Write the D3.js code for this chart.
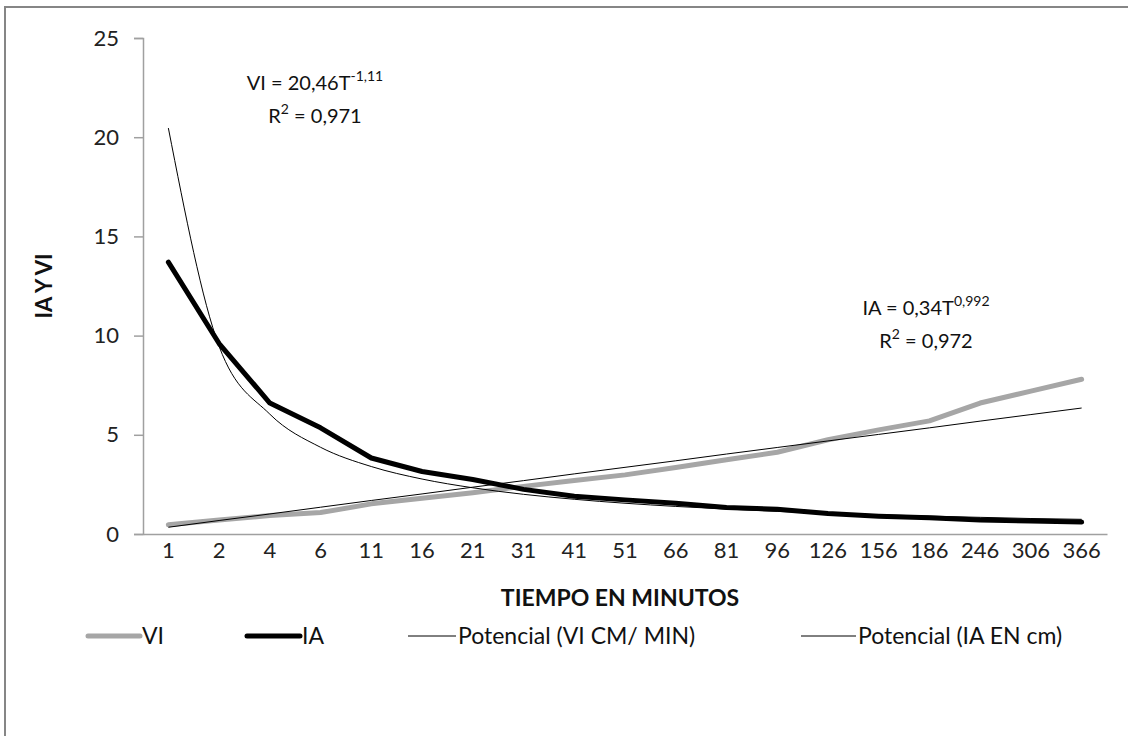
<!DOCTYPE html>
<html>
<head>
<meta charset="utf-8">
<script src="https://cdn.jsdelivr.net/npm/d3@7/dist/d3.min.js"></script>
<style>
  html, body { margin: 0; padding: 0; background: #fff; }
  svg { display: block; font-family: Lato, "Open Sans", sans-serif; }
</style>
</head>
<body>
<svg id="chart" width="1128" height="736"></svg>
<script>
// ---- data ----
const categories = ["1","2","4","6","11","16","21","31","41","51","66","81","96","126","156","186","246","306","366"];
const viValues = [0.47, 0.7, 0.93, 1.08, 1.52, 1.8, 2.08, 2.4, 2.7, 2.98, 3.35, 3.74, 4.12, 4.75, 5.25, 5.7, 6.6, 7.2, 7.8];
const iaValues = [13.7, 9.6, 6.6, 5.35, 3.83, 3.15, 2.75, 2.25, 1.9, 1.72, 1.55, 1.33, 1.25, 1.03, 0.9, 0.82, 0.7, 0.66, 0.6];
const trendVI = [20.46, 9.46, 6.04, 4.37, 3.40, 2.77, 2.33, 2.0, 1.75, 1.55, 1.39, 1.26, 1.14, 1.05, 0.97, 0.9, 0.84, 0.78, 0.74];
const trendIA = [0.34, 0.68, 1.01, 1.35, 1.69, 2.02, 2.36, 2.69, 3.03, 3.36, 3.69, 4.03, 4.36, 4.69, 5.02, 5.35, 5.69, 6.02, 6.35];
const yTicks = [0, 5, 10, 15, 20, 25];
const legendLabels = ["VI", "IA", "Potencial (VI CM/ MIN)", "Potencial (IA EN cm)"];

const svg = d3.select("#chart");
const frameGray = "#868686";
const axisGray = "#a0a0a0";
const FS = 22;

// outer chart frame
svg.append("rect").attr("x", 5).attr("y", 7).attr("width", 1140).attr("height", 760)
  .attr("fill", "none").attr("stroke", frameGray).attr("stroke-width", 2);

const x = d3.scaleBand().domain(categories).range([143, 1107]);
const y = d3.scaleLinear().domain([0, 25]).range([534, 38]);
const cx = c => x(c) + x.bandwidth() / 2;

// y axis
const yAxis = svg.append("g").attr("transform", "translate(143,0)")
  .call(d3.axisLeft(y).tickValues(yTicks).tickSize(9).tickPadding(15));
yAxis.select(".domain").attr("stroke", axisGray).attr("stroke-width", 1.5);
yAxis.selectAll(".tick line").attr("stroke", axisGray).attr("stroke-width", 1.5);
yAxis.selectAll(".tick text").attr("font-size", FS).attr("fill", "#222").attr("font-family", "Lato, sans-serif");

// x axis
const xAxis = svg.append("g").attr("transform", "translate(0,534)")
  .call(d3.axisBottom(x).tickSize(0).tickPadding(8).tickSizeOuter(0));
xAxis.select(".domain").attr("stroke", axisGray).attr("stroke-width", 1.5);
xAxis.selectAll(".tick text").attr("font-size", FS).attr("fill", "#222").attr("font-family", "Lato, sans-serif");

// axis titles
svg.append("text").attr("transform", "translate(52,286) rotate(-90)")
  .attr("text-anchor", "middle").attr("font-weight", "bold").attr("font-size", FS).attr("fill", "#111")
  .text("IA Y VI");
svg.append("text").attr("x", 620).attr("y", 606)
  .attr("text-anchor", "middle").attr("font-weight", "bold").attr("font-size", 23).attr("fill", "#111")
  .text("TIEMPO EN MINUTOS");

// series
const line = vals => d3.line().x((d, i) => cx(categories[i])).y(d => y(d))(vals);
const curveLine = vals => d3.line().curve(d3.curveMonotoneX).x((d, i) => cx(categories[i])).y(d => y(d))(vals);

svg.append("path").attr("d", line(viValues)).attr("fill", "none")
  .attr("stroke", "#a6a6a6").attr("stroke-width", 5).attr("stroke-linecap", "round").attr("stroke-linejoin", "round");
svg.append("path").attr("d", line(iaValues)).attr("fill", "none")
  .attr("stroke", "#000").attr("stroke-width", 5).attr("stroke-linecap", "round").attr("stroke-linejoin", "round");
svg.append("path").attr("d", curveLine(trendVI)).attr("fill", "none")
  .attr("stroke", "#000").attr("stroke-width", 1);
svg.append("path").attr("d", curveLine(trendIA)).attr("fill", "none")
  .attr("stroke", "#000").attr("stroke-width", 1);

// equation labels
function eq(xc, yy, pre, sup, r2) {
  const t = svg.append("text").attr("x", xc).attr("y", yy).attr("text-anchor", "middle")
    .attr("font-size", 20).attr("fill", "#111");
  t.append("tspan").text(pre);
  t.append("tspan").attr("dy", -9).attr("font-size", 14).text(sup);
  const t2 = svg.append("text").attr("x", xc).attr("y", yy + 33).attr("text-anchor", "middle")
    .attr("font-size", 20).attr("fill", "#111");
  t2.append("tspan").text("R");
  t2.append("tspan").attr("dy", -9).attr("font-size", 14).text("2");
  t2.append("tspan").attr("dy", 9).text(" = " + r2);
}
eq(315, 90, "VI = 20,46T", "-1,11", "0,971");
eq(926, 315, "IA = 0,34T", "0,992", "0,972");

// legend
const legendItems = [
  { label: legendLabels[0], x0: 88, x1: 140, color: "#a6a6a6", w: 5 },
  { label: legendLabels[1], x0: 247, x1: 300, color: "#000", w: 5 },
  { label: legendLabels[2], x0: 408, x1: 456, color: "#000", w: 1 },
  { label: legendLabels[3], x0: 801, x1: 856, color: "#000", w: 1 }
];
const lg = svg.append("g");
legendItems.forEach(it => {
  lg.append("line").attr("x1", it.x0).attr("x2", it.x1).attr("y1", 636).attr("y2", 636)
    .attr("stroke", it.color).attr("stroke-width", it.w).attr("stroke-linecap", it.w > 1 ? "round" : "butt");
  lg.append("text").attr("x", it.x1 + 2).attr("y", 644).attr("font-size", 23).attr("fill", "#111").text(it.label);
});
</script>
</body>
</html>
